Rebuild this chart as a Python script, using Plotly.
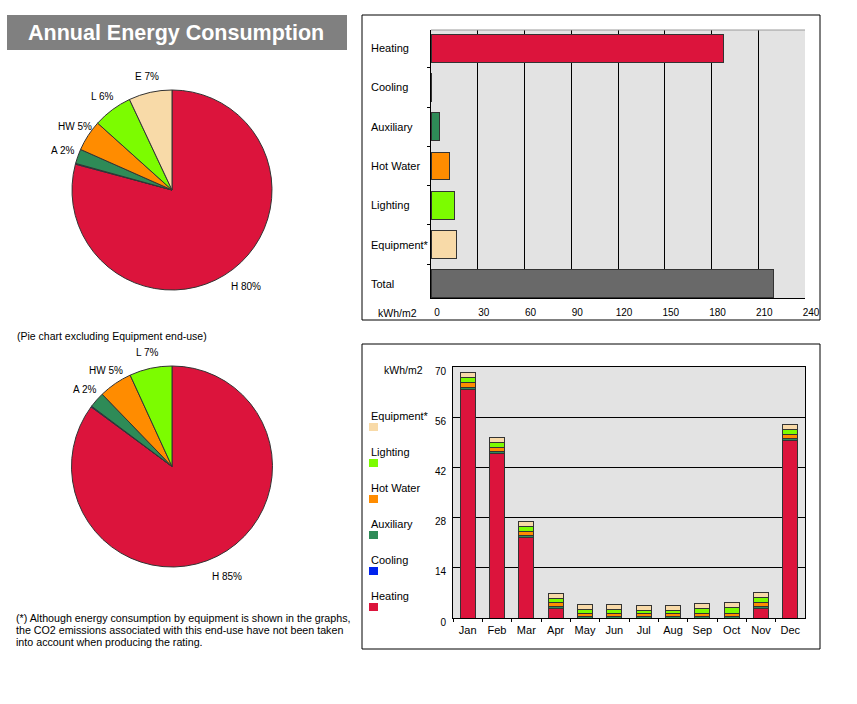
import math
import plotly.graph_objects as go

W, H = 857, 704
def px(x): return x / W
def py(y): return 1 - y / H

FONT = "Liberation Sans, Arial, sans-serif"

# ---- data ----
enduses = ["Heating", "Cooling", "Auxiliary", "Hot Water", "Lighting", "Equipment*", "Total"]
annual_kwh = [188, 0.3, 5.6, 11.9, 15.1, 16.6, 220]
enduse_colors = ["#DC143C", "#0022EE", "#2E8B57", "#FF8C00", "#7CFC00", "#F8DAA8", "#696969"]

pie_abbr_all = ["H 80%", "", "A 2%", "HW 5%", "L 6%", "E 7%"]
pie_abbr_noeq = ["H 85%", "", "A 2%", "HW 5%", "L 7%"]

months = ["Jan", "Feb", "Mar", "Apr", "May", "Jun", "Jul", "Aug", "Sep", "Oct", "Nov", "Dec"]
m_heating = [63.8, 46.0, 22.5, 2.7, 0, 0, 0, 0, 0, 0, 2.7, 49.4]
m_cooling = [0, 0, 0, 0, 0, 0, 0, 0, 0, 0, 0, 0]
m_aux = [0.6, 0.5, 0.5, 0.5, 0.4, 0.4, 0.4, 0.4, 0.4, 0.4, 0.5, 0.6]
m_hw = [1.2, 1.1, 1.1, 1.0, 0.9, 0.9, 0.8, 0.8, 0.9, 0.9, 1.0, 1.1]
m_light = [1.5, 1.4, 1.3, 1.3, 1.0, 1.0, 1.0, 1.0, 1.3, 1.6, 1.4, 1.5]
m_equip = [1.4, 1.4, 1.4, 1.3, 1.4, 1.4, 1.4, 1.4, 1.4, 1.4, 1.4, 1.4]
monthly_series = [("Heating", m_heating), ("Cooling", m_cooling), ("Auxiliary", m_aux),
                  ("Hot Water", m_hw), ("Lighting", m_light), ("Equipment*", m_equip)]
color_of = dict(zip(enduses, enduse_colors))

footnote_lines = [
    "(*) Although energy consumption by equipment is shown in the graphs,",
    "the CO2 emissions associated with this end-use have not been taken",
    "into account when producing the rating.",
]

fig = go.Figure()
annotations = []
shapes = []

# ---- pies: slices drawn by plotly; labels centred on each slice's mid-angle ray ----
def add_pie(vals, names, cols, texts, cy_top, cy_bot):
    cx = 172
    r = (cy_bot - cy_top) / 2
    cy = (cy_top + cy_bot) / 2
    fig.add_trace(go.Pie(
        values=vals, labels=names, textinfo="none", sort=False, direction="clockwise", rotation=0,
        marker=dict(colors=cols, line=dict(color="#333333", width=1)),
        domain=dict(x=[px(cx - r), px(cx + r)], y=[py(cy + r), py(cy - r)]), showlegend=False,
        hoverinfo="label+value"))
    total = sum(vals)
    cum = 0
    for v, t in zip(vals, texts):
        mid = 2 * math.pi * (cum + v / 2) / total
        cum += v
        if not t:
            continue
        rl = r + 16 + (7 * abs(math.cos(mid)) if math.cos(mid) < 0 else 0)
        lx = cx + rl * math.sin(mid)
        ly = cy - rl * math.cos(mid)
        annotations.append(dict(text=t, xref="paper", yref="paper", x=px(lx), y=py(ly),
                                xanchor="center", yanchor="middle", showarrow=False,
                                font=dict(family=FONT, size=10, color="#000")))

add_pie(annual_kwh[:6], enduses[:6], enduse_colors[:6], pie_abbr_all, 90, 290)
add_pie(annual_kwh[:5], enduses[:5], enduse_colors[:5], pie_abbr_noeq, 366, 567)

# ---- annual horizontal bars ----
fig.add_trace(go.Bar(
    x=annual_kwh, y=enduses, orientation="h",
    marker=dict(color=enduse_colors, line=dict(color="#333333", width=1)),
    xaxis="x", yaxis="y", showlegend=False, width=0.71))

# ---- monthly stacked bars ----
for name, vals in monthly_series:
    fig.add_trace(go.Bar(
        x=months, y=vals, name=name,
        marker=dict(color=color_of[name], line=dict(color="#333333", width=1)),
        xaxis="x2", yaxis="y2", showlegend=False, width=0.52))

# title
shapes.append(dict(type="rect", xref="paper", yref="paper", x0=px(7), x1=px(347),
                   y0=py(50), y1=py(15), fillcolor="#808080", line=dict(width=0), layer="below"))
annotations.append(dict(text="<b>Annual Energy Consumption</b>", xref="paper", yref="paper",
                        x=px(176), y=py(33), xanchor="center", yanchor="middle", showarrow=False,
                        font=dict(family=FONT, size=21.5, color="white")))
annotations.append(dict(text="(Pie chart excluding Equipment end-use)", xref="paper", yref="paper",
                        x=px(15), y=py(336), xanchor="left", yanchor="middle", showarrow=False,
                        font=dict(family=FONT, size=10.5, color="#000")))
for i, line in enumerate(footnote_lines):
    annotations.append(dict(text=line, xref="paper", yref="paper", x=px(14), y=py(618 + 12 * i),
                            xanchor="left", yanchor="middle", showarrow=False,
                            font=dict(family=FONT, size=10.7, color="#000")))

# chart boxes
for (x0, y0, x1, y1) in [(362, 15, 820, 320), (362, 344, 820, 649)]:
    shapes.append(dict(type="rect", xref="paper", yref="paper", x0=px(x0), x1=px(x1),
                       y0=py(y1), y1=py(y0), line=dict(color="#000", width=1),
                       fillcolor="rgba(0,0,0,0)", layer="below"))
# faint top edge of chart 1 plot area
shapes.append(dict(type="line", xref="x domain", yref="y domain", x0=0, x1=1, y0=1, y1=1,
                   line=dict(color="#9A9A9A", width=1)))

# chart 1 category labels
for c in enduses:
    annotations.append(dict(text=c, xref="paper", yref="y", x=px(369), y=c, xanchor="left",
                            yanchor="middle", showarrow=False,
                            font=dict(family=FONT, size=11, color="#000")))
annotations.append(dict(text="kWh/m2", xref="paper", yref="paper", x=px(397), y=py(313),
                        xanchor="center", yanchor="middle", showarrow=False,
                        font=dict(family=FONT, size=10.5, color="#000")))
annotations.append(dict(text="kWh/m2", xref="paper", yref="paper", x=px(403), y=py(370),
                        xanchor="center", yanchor="middle", showarrow=False,
                        font=dict(family=FONT, size=10.5, color="#000")))

# chart 2 legend
legend_order = ["Equipment*", "Lighting", "Hot Water", "Auxiliary", "Cooling", "Heating"]
for i, name in enumerate(legend_order):
    ty = 416 + 36 * i
    annotations.append(dict(text=name, xref="paper", yref="paper", x=px(369), y=py(ty),
                            xanchor="left", yanchor="middle", showarrow=False,
                            font=dict(family=FONT, size=11, color="#000")))
    shapes.append(dict(type="rect", xref="paper", yref="paper", x0=px(369), x1=px(378),
                       y0=py(ty + 15), y1=py(ty + 7), fillcolor=color_of[name], line=dict(width=0)))

fig.update_layout(
    template="none",
    width=W, height=H, margin=dict(l=0, r=0, t=0, b=0, pad=0, autoexpand=False), autosize=False,
    paper_bgcolor="white", plot_bgcolor="#E3E3E3",
    barmode="stack", bargap=0.3,
    font=dict(family=FONT, size=10, color="#000"),
    annotations=annotations, shapes=shapes,
    xaxis=dict(domain=[px(431), px(805)], anchor="y", range=[0, 240], tickvals=list(range(0, 241, 30)),
               showgrid=True, gridcolor="#000", gridwidth=1, zeroline=False, automargin=False,
               showline=True, linecolor="#000", mirror=False, ticks="", ticklabelshift=6,
               ticklabelstandoff=5, tickfont=dict(family=FONT, size=10)),
    yaxis=dict(domain=[py(298), py(30)], anchor="x", type="category", range=[6.36, -0.46],
               categoryorder="array", categoryarray=enduses, automargin=False,
               showticklabels=False, ticks="outside", tickson="boundaries", ticklen=3,
               tickcolor="#000", showgrid=False, showline=True, linecolor="#000", zeroline=False),
    xaxis2=dict(domain=[px(453), px(805)], anchor="y2", type="category", categoryorder="array",
                categoryarray=months, ticks="outside", tickson="boundaries", ticklen=3,
                tickcolor="#000", showline=True, linecolor="#000", mirror=True, showgrid=False,
                tickangle=0, automargin=False, ticklabelstandoff=2,
                tickfont=dict(family=FONT, size=11)),
    yaxis2=dict(domain=[py(618), py(367)], anchor="x2", range=[0, 70], tickvals=list(range(0, 71, 14)),
                showgrid=True, gridcolor="#000", gridwidth=1, zeroline=False, showline=True,
                linecolor="#000", mirror=True, ticks="", ticklabelshift=4, ticklabelstandoff=4,
                automargin=False, tickfont=dict(family=FONT, size=10)),
)

fig.write_html(
    "out.html",
    config={"displayModeBar": False},
    post_script="document.body.style.margin='0';document.body.style.overflow='hidden';",
)
